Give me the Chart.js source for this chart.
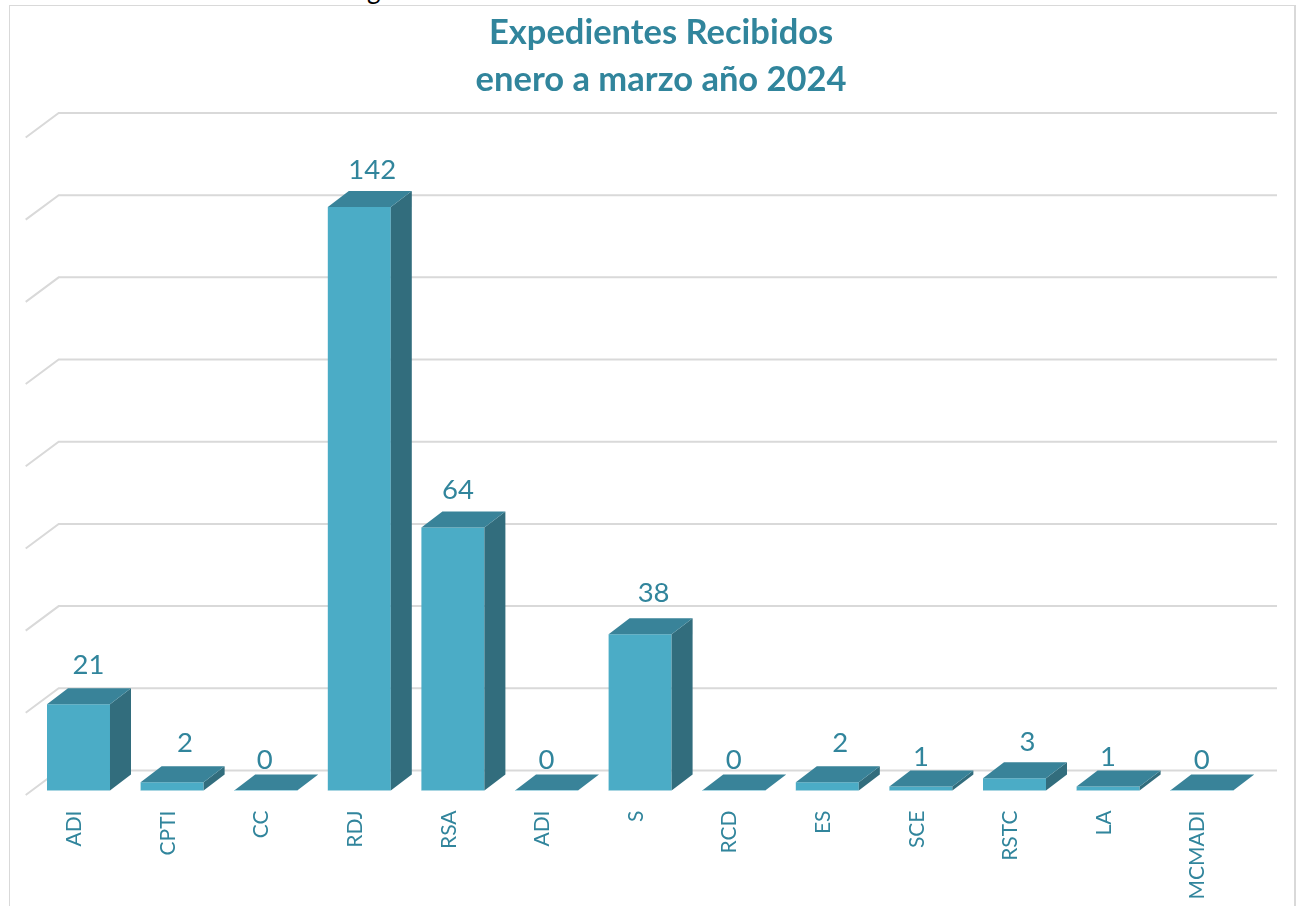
<!DOCTYPE html>
<html lang="es">
<head>
<meta charset="utf-8">
<title>Expedientes Recibidos</title>
<script src="https://cdn.jsdelivr.net/npm/chart.js@4/dist/chart.umd.min.js"></script>
<style>
  html, body { margin: 0; padding: 0; background: #fff; overflow: hidden; width: 1296px; height: 906px; }
  #marco { position: absolute; left: 9px; top: 5px; width: 1300px; height: 920px; border: 1.5px solid #d9d9d9; box-sizing: border-box; }
  #bordeDer { position: absolute; left: 1294px; top: 5px; width: 1.5px; height: 901px; background: #d9d9d9; }
  #corte { position: absolute; left: 367px; top: -27px; font: 26px Lato, sans-serif; color: #000; }
  #lienzo { position: absolute; left: 20px; top: 0; width: 1282px; height: 906px; }
</style>
</head>
<body>
<div id="corte">g</div>
<div id="marco"></div>
<div id="bordeDer"></div>
<div id="lienzo"><canvas id="grafico"></canvas></div>
<script>
const categorias = ["ADI", "CPTI", "CC", "RDJ", "RSA", "ADI", "S", "RCD", "ES", "SCE", "RSTC", "LA", "MCMADI"];
const expedientes = [21, 2, 0, 142, 64, 0, 38, 0, 2, 1, 3, 1, 0];
const tituloLineas = ["Expedientes Recibidos", "enero a marzo año 2024"];

// desplazamiento de cada etiqueta respecto a su barra (colocadas a mano en el original)
const etiquetaDx = [10, 13, -1, 13, 5, 0, 13.5, 0, 13, 0, 13, 0, 0];
const etiquetaDy = [-39, -39, -30, -37, -37, -30, -41, -30, -39, -29, -36, -29, -30];

const TEAL = "#4bacc6", TECHO = "#398399", LADO = "#326d7d", TEXTO = "#31859c", REJILLA = "#d9d9d9";
const FONDO_X = 21, FONDO_Y = -16;

// el titulo va centrado sobre el fondo 3D, no sobre el area de barras
const tituloCentrado = {
  id: "tituloCentrado",
  afterLayout(chart) {
    chart.titleBlock.left += 21;
    chart.titleBlock.right += 21;
  }
};

// pared lateral y rejilla en perspectiva
const rejilla3d = {
  id: "rejilla3d",
  beforeDatasetsDraw(chart) {
    const { ctx, chartArea, scales } = chart;
    const x0 = chartArea.left - 6;
    ctx.save();
    ctx.strokeStyle = REJILLA;
    ctx.lineWidth = 2;
    scales.y.ticks.forEach(t => {
      const y = scales.y.getPixelForValue(t.value);
      ctx.beginPath();
      ctx.moveTo(x0, y + 4.5);
      ctx.lineTo(x0 + 33, y - 20);
      ctx.lineTo(chartArea.right + 28.5, y - 20);
      ctx.stroke();
    });
    ctx.restore();
  }
};

// caras superior y lateral de cada barra, mas las etiquetas de valor
const barras3d = {
  id: "barras3d",
  afterDatasetsDraw(chart) {
    const { ctx } = chart;
    const meta = chart.getDatasetMeta(0);
    ctx.save();
    meta.data.forEach((bar, i) => {
      const izq = bar.x - bar.width / 2, der = bar.x + bar.width / 2;
      const arriba = bar.y, base = bar.base;

      ctx.fillStyle = LADO;
      ctx.beginPath();
      ctx.moveTo(der, arriba);
      ctx.lineTo(der + FONDO_X, arriba + FONDO_Y);
      ctx.lineTo(der + FONDO_X, base + FONDO_Y);
      ctx.lineTo(der, base);
      ctx.closePath();
      ctx.fill();

      ctx.fillStyle = TECHO;
      ctx.beginPath();
      ctx.moveTo(izq, arriba);
      ctx.lineTo(der, arriba);
      ctx.lineTo(der + FONDO_X, arriba + FONDO_Y);
      ctx.lineTo(izq + FONDO_X, arriba + FONDO_Y);
      ctx.closePath();
      ctx.fill();

      // filo claro de la base
      ctx.strokeStyle = "#a9d6e2";
      ctx.lineWidth = 1;
      ctx.beginPath();
      ctx.moveTo(izq, base);
      ctx.lineTo(der, base);
      ctx.stroke();

      ctx.fillStyle = TEXTO;
      ctx.font = "27.5px Lato, sans-serif";
      ctx.textAlign = "center";
      ctx.textBaseline = "middle";
      ctx.fillText(String(expedientes[i]), bar.x + etiquetaDx[i], arriba + etiquetaDy[i]);
    });
    ctx.restore();
  }
};

new Chart(document.getElementById("grafico"), {
  type: "bar",
  data: {
    labels: categorias,
    datasets: [{
      data: expedientes,
      backgroundColor: TEAL,
      barPercentage: 0.673,
      categoryPercentage: 1
    }]
  },
  options: {
    responsive: true,
    maintainAspectRatio: false,
    animation: false,
    layout: { padding: { left: 11.7, right: 53.5, top: 0, bottom: 0 } },
    plugins: {
      legend: { display: false },
      tooltip: { enabled: false },
      title: {
        display: true,
        text: tituloLineas,
        color: TEXTO,
        font: { family: "Lato, sans-serif", size: 34.5, weight: "bold", lineHeight: 1.362 },
        padding: { top: 9.5, bottom: 29.5 }
      }
    },
    scales: {
      y: {
        min: 0,
        max: 160,
        display: true,
        border: { display: false },
        grid: { display: false },
        ticks: { display: false, stepSize: 20 },
        afterFit(scale) { scale.width = 0; }
      },
      x: {
        border: { display: false },
        grid: { display: false, drawTicks: false },
        ticks: {
          color: TEXTO,
          font: { family: "Lato, sans-serif", size: 21 },
          minRotation: 90,
          maxRotation: 90,
          autoSkip: false,
          labelOffset: -4,
          padding: 20
        },
        afterFit(scale) { scale.height = 115.5; }
      }
    }
  },
  plugins: [tituloCentrado, rejilla3d, barras3d]
});
</script>
</body>
</html>
